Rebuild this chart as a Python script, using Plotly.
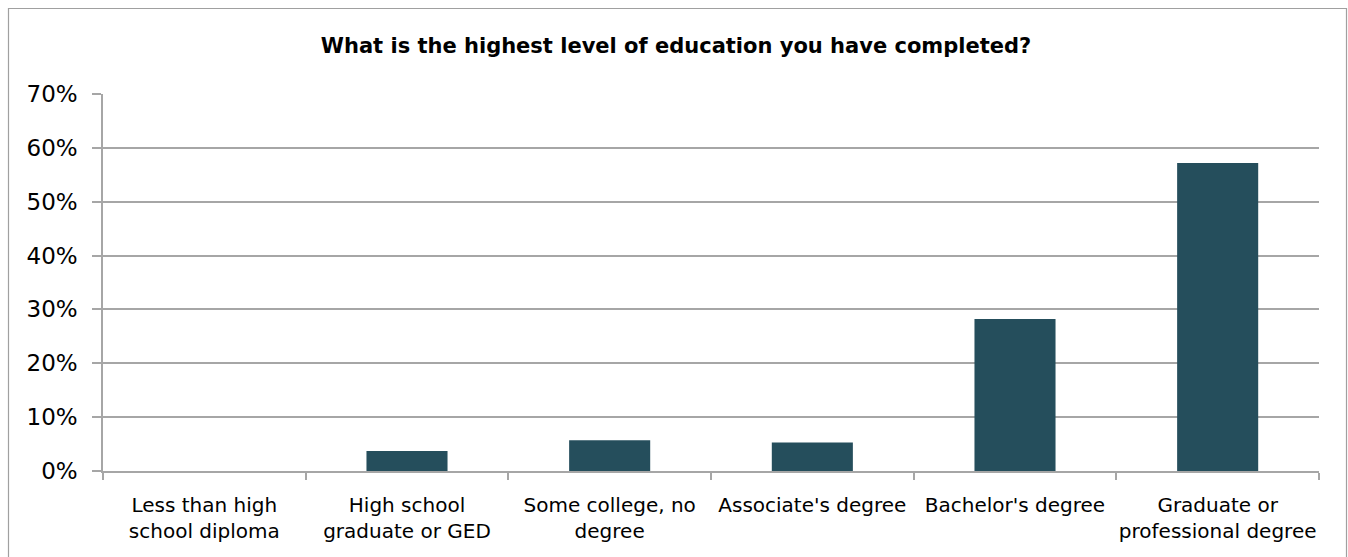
import plotly.graph_objects as go

# Survey responses: share of respondents by highest completed education level
categories = [
    "Less than high<br>school diploma",
    "High school<br>graduate or GED",
    "Some college, no<br>degree",
    "Associate's degree",
    "Bachelor's degree",
    "Graduate or<br>professional degree",
]
shares = [0.0, 0.037, 0.057, 0.053, 0.282, 0.572]

title_text = "What is the highest level of education you have completed?"

W, H = 1348, 557
L, R, T, B = 103, 29, 94, 86
FONT = "DejaVu Sans, sans-serif"
GRID = "#a6a6a6"

fig = go.Figure(
    go.Bar(
        x=categories,
        y=shares,
        marker=dict(color="#254e5c", line=dict(width=0)),
        width=0.4,
        hoverinfo="x+y",
    )
)

plot_w = W - L - R
plot_h = H - T - B

def px_to_paper_x(px):
    return (px - L) / plot_w

def px_to_paper_y(py):
    return (H - B - py) / plot_h

# Outer chart frame
fig.add_shape(
    type="rect",
    xref="paper", yref="paper",
    x0=px_to_paper_x(8.5), x1=px_to_paper_x(1346.5),
    y0=px_to_paper_y(580), y1=px_to_paper_y(8.5),
    line=dict(color="#a0a0a0", width=1.2),
    fillcolor="rgba(0,0,0,0)",
    layer="below",
)

fig.update_layout(
    width=W,
    height=H,
    margin=dict(l=L, r=R, t=T, b=B, pad=0, autoexpand=False),
    paper_bgcolor="white",
    plot_bgcolor="white",
    showlegend=False,
    font=dict(family=FONT, color="black", size=20),
    title=dict(
        text="<b>" + title_text + "</b>",
        x=px_to_paper_x(676),
        xref="paper",
        xanchor="center",
        y=1 - 46 / H,
        yref="container",
        yanchor="middle",
        font=dict(family=FONT, size=21, color="black"),
    ),
    bargap=0.6,
)

fig.update_xaxes(
    showline=True,
    linecolor=GRID,
    linewidth=1.5,
    ticks="outside",
    tickson="boundaries",
    ticklen=7,
    tickcolor=GRID,
    tickwidth=1.5,
    showgrid=False,
    tickangle=0,
    automargin=False,
    tickfont=dict(size=20, family=FONT),
    ticklabelstandoff=15,
)

fig.update_yaxes(
    range=[0, 0.7],
    dtick=0.1,
    tickformat=".0%",
    showline=True,
    linecolor=GRID,
    linewidth=1.5,
    ticks="outside",
    ticklen=9,
    tickcolor=GRID,
    tickwidth=1.5,
    showgrid=True,
    gridcolor=GRID,
    gridwidth=1.5,
    zeroline=False,
    automargin=False,
    tickfont=dict(size=23, family=FONT),
    ticklabelstandoff=10,
)

fig.write_html("out.html")
